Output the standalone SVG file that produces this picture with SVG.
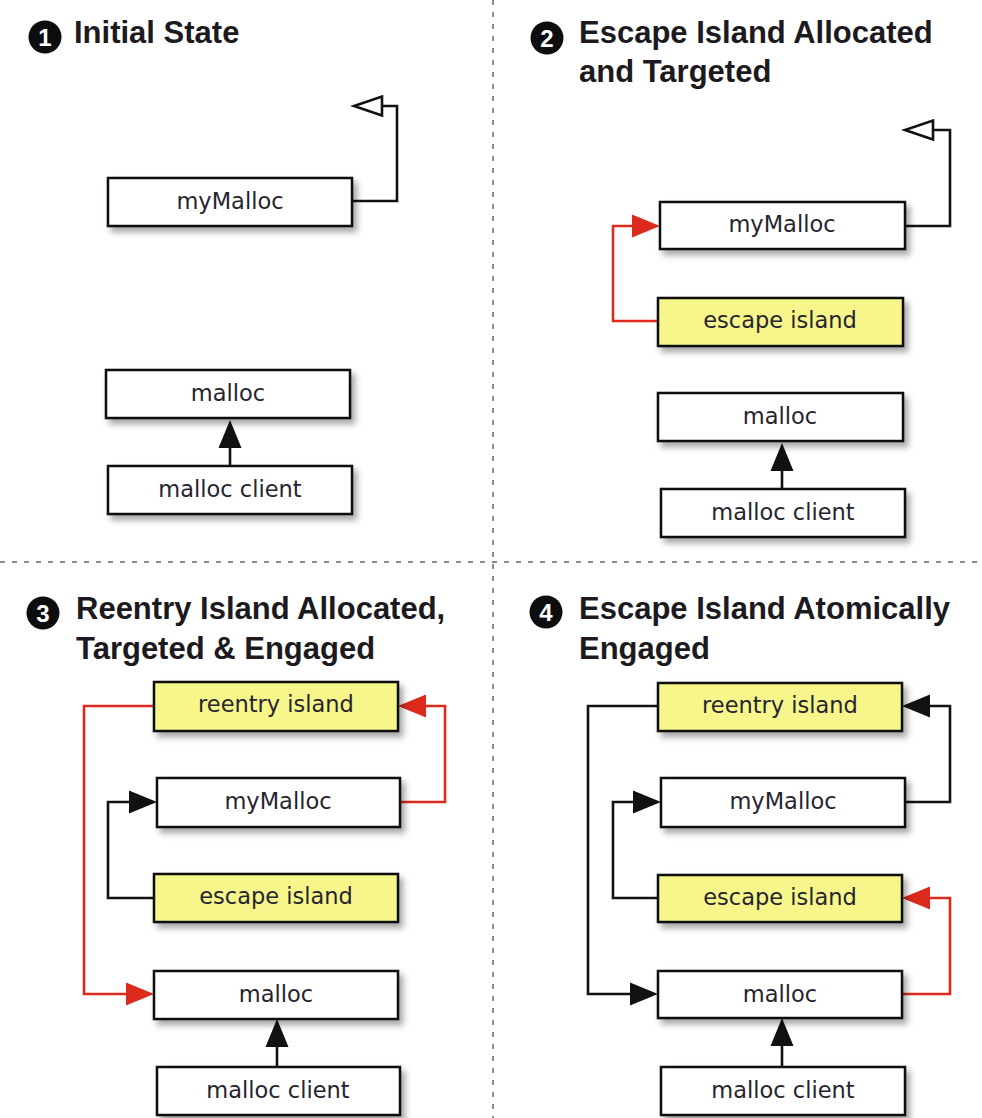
<svg xmlns="http://www.w3.org/2000/svg" width="982" height="1118" viewBox="0 0 982 1118">
<defs>
<style>
.title{font-family:"Liberation Sans",Arial,sans-serif;font-weight:bold;font-size:31px;fill:#1c1a1e}
.num{font-family:"Liberation Sans",Arial,sans-serif;font-weight:bold;font-size:24px;fill:#ffffff;text-anchor:middle}
.badge{fill:#0d0d10}
.box{fill:#ffffff;stroke:#111;stroke-width:2.5;filter:url(#sh)}
.yel{fill:#f6f68a}
.lbl{font-family:"DejaVu Sans",Verdana,sans-serif;font-size:22.5px;fill:#26242e;text-anchor:middle}
.ln{fill:none;stroke:#111;stroke-width:2.6}
.red{stroke:#dc2a1c}
.div{fill:none;stroke:#8c8c8c;stroke-width:2;stroke-dasharray:5 7}
</style>
<filter id="sh" x="-10%" y="-20%" width="130%" height="160%">
<feDropShadow dx="4" dy="5" stdDeviation="3" flood-color="#000" flood-opacity="0.35"/>
</filter>
<marker id="ab" markerUnits="userSpaceOnUse" markerWidth="30" markerHeight="24" viewBox="0 0 30 24" refX="0" refY="11.5" orient="auto" overflow="visible">
<path d="M0,0 L28,11.5 L0,23 Z" fill="#111"/>
</marker>
<marker id="ar" markerUnits="userSpaceOnUse" markerWidth="30" markerHeight="24" viewBox="0 0 30 24" refX="0" refY="11.5" orient="auto" overflow="visible">
<path d="M0,0 L28,11.5 L0,23 Z" fill="#dc2a1c"/>
</marker>
<marker id="ao" markerUnits="userSpaceOnUse" markerWidth="34" markerHeight="26" viewBox="0 0 34 26" refX="1" refY="11" orient="auto" overflow="visible">
<path d="M1,1.5 L29,11 L1,20.5 Z" fill="#fff" stroke="#111" stroke-width="2.6" stroke-linejoin="miter"/>
</marker>
</defs>
<rect width="982" height="1118" fill="#ffffff"/>

<g id="dividers">
<line class="div" x1="493" y1="0" x2="493" y2="1118"/>
<line class="div" x1="0" y1="562" x2="982" y2="562"/>
</g>

<g id="titles">
<g id="title1">
<circle class="badge" cx="45" cy="37" r="16.5"/>
<text class="num" x="45" y="46">1</text>
<text class="title" x="74" y="43">Initial State</text>
</g>
<g id="title2">
<circle class="badge" cx="547" cy="38" r="16.5"/>
<text class="num" x="547" y="47">2</text>
<text class="title" x="579" y="43">Escape Island Allocated</text>
<text class="title" x="579" y="82">and Targeted</text>
</g>
<g id="title3">
<circle class="badge" cx="43" cy="613" r="16.5"/>
<text class="num" x="43" y="622">3</text>
<text class="title" x="76" y="619">Reentry Island Allocated,</text>
<text class="title" x="76" y="659">Targeted &amp; Engaged</text>
</g>
<g id="title4">
<circle class="badge" cx="546" cy="612" r="16.5"/>
<text class="num" x="546" y="621">4</text>
<text class="title" x="579" y="619">Escape Island Atomically</text>
<text class="title" x="579" y="659">Engaged</text>
</g>
</g>

<g id="connectors">
<path class="ln" d="M352,201 H397 V106 H382" marker-end="url(#ao)"/>
<path class="ln" d="M230,466 V448" marker-end="url(#ab)"/>

<path class="ln" d="M905,226 H950 V130 H933" marker-end="url(#ao)"/>
<path class="ln red" d="M658,321 H613 V226 H632" marker-end="url(#ar)"/>
<path class="ln" d="M782,489 V471" marker-end="url(#ab)"/>

<path class="ln red" d="M154,706 H84 V994 H126" marker-end="url(#ar)"/>
<path class="ln red" d="M400,802 H445 V706 H426" marker-end="url(#ar)"/>
<path class="ln" d="M154,898 H108 V802 H129" marker-end="url(#ab)"/>
<path class="ln" d="M277,1067 V1047" marker-end="url(#ab)"/>

<path class="ln" d="M658,706 H588 V994 H630" marker-end="url(#ab)"/>
<path class="ln" d="M905,802 H950 V706 H930" marker-end="url(#ab)"/>
<path class="ln" d="M658,898 H613 V802 H633" marker-end="url(#ab)"/>
<path class="ln red" d="M902,994 H950 V898 H930" marker-end="url(#ar)"/>
<path class="ln" d="M782,1067 V1046" marker-end="url(#ab)"/>
</g>

<g id="p1-mymalloc"><rect class="box" x="108" y="178" width="244" height="48"/><text class="lbl" x="230" y="209">myMalloc</text></g>
<g id="p1-malloc"><rect class="box" x="106" y="370" width="244" height="48"/><text class="lbl" x="228" y="401">malloc</text></g>
<g id="p1-client"><rect class="box" x="108" y="466" width="244" height="48"/><text class="lbl" x="230" y="497">malloc client</text></g>

<g id="p2-mymalloc"><rect class="box" x="660" y="202" width="245" height="47"/><text class="lbl" x="782" y="232">myMalloc</text></g>
<g id="p2-escape"><rect class="box yel" x="658" y="298" width="245" height="48"/><text class="lbl" x="780" y="328">escape island</text></g>
<g id="p2-malloc"><rect class="box" x="658" y="393" width="245" height="48"/><text class="lbl" x="780" y="424">malloc</text></g>
<g id="p2-client"><rect class="box" x="661" y="489" width="244" height="48"/><text class="lbl" x="783" y="520">malloc client</text></g>

<g id="p3-reentry"><rect class="box yel" x="154" y="682" width="244" height="49"/><text class="lbl" x="276" y="712">reentry island</text></g>
<g id="p3-mymalloc"><rect class="box" x="157" y="778" width="243" height="49"/><text class="lbl" x="278" y="809">myMalloc</text></g>
<g id="p3-escape"><rect class="box yel" x="154" y="874" width="244" height="48"/><text class="lbl" x="276" y="904">escape island</text></g>
<g id="p3-malloc"><rect class="box" x="154" y="971" width="244" height="48"/><text class="lbl" x="276" y="1002">malloc</text></g>
<g id="p3-client"><rect class="box" x="157" y="1067" width="243" height="48"/><text class="lbl" x="278" y="1098">malloc client</text></g>

<g id="p4-reentry"><rect class="box yel" x="658" y="683" width="244" height="48"/><text class="lbl" x="780" y="713">reentry island</text></g>
<g id="p4-mymalloc"><rect class="box" x="661" y="778" width="244" height="49"/><text class="lbl" x="783" y="809">myMalloc</text></g>
<g id="p4-escape"><rect class="box yel" x="658" y="875" width="244" height="47"/><text class="lbl" x="780" y="905">escape island</text></g>
<g id="p4-malloc"><rect class="box" x="658" y="971" width="244" height="47"/><text class="lbl" x="780" y="1002">malloc</text></g>
<g id="p4-client"><rect class="box" x="661" y="1067" width="244" height="48"/><text class="lbl" x="783" y="1098">malloc client</text></g>
</svg>
